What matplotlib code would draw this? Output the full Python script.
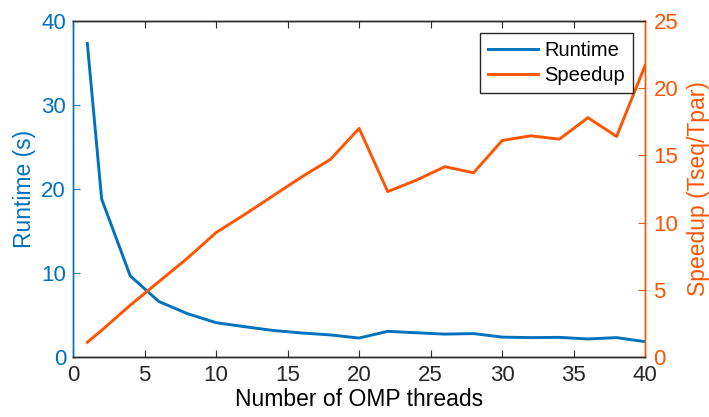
import matplotlib
matplotlib.use("Agg")
import matplotlib.pyplot as plt
from matplotlib import font_manager

names = {f.name for f in font_manager.fontManager.ttflist}
NARROW = 'Liberation Sans Narrow' if 'Liberation Sans Narrow' in names else 'Liberation Sans'
plt.rcParams['font.family'] = [NARROW, 'DejaVu Sans']

# ==============================
# DATA
# ==============================
threads = [1, 2, 4, 6, 8, 10, 12, 14, 16, 18, 20,
           22, 24, 26, 28, 30, 32, 34, 36, 38, 40]
runtime = [37.3, 18.8, 9.65, 6.6, 5.15, 4.08, 3.6, 3.15, 2.85, 2.62, 2.25,
           3.05, 2.88, 2.72, 2.78, 2.36, 2.3, 2.33, 2.14, 2.3, 1.82]
speedup = [1.09, 1.98, 3.85, 5.6, 7.35, 9.25, 10.6, 12.0, 13.4, 14.7, 17.0,
           12.3, 13.15, 14.15, 13.7, 16.1, 16.45, 16.2, 17.8, 16.4, 21.7]

BLUE = '#0072BD'
ORANGE = '#FF5500'

fig = plt.figure(figsize=(7.09, 4.17), dpi=100)
ax = fig.add_axes([0.103, 0.144, 0.807, 0.806])
ax2 = ax.twinx()

l1, = ax.plot(threads, runtime, color=BLUE, lw=2.1, label='Runtime')
l2, = ax2.plot(threads, speedup, color=ORANGE, lw=2.1, label='Speedup')

ax.set_xlim(0, 40)
ax.set_ylim(0, 40)
ax2.set_ylim(0, 25)
ax.set_xticks(range(0, 41, 5))
ax.set_yticks(range(0, 41, 10))
ax2.set_yticks(range(0, 26, 5))

ax.set_xlabel('Number of OMP threads', fontsize=16.5, labelpad=1)
ax.set_ylabel('Runtime (s)', fontsize=16.5, color=BLUE, labelpad=4)
ax2.set_ylabel('Speedup (Tseq/Tpar)', fontsize=16.5, color=ORANGE, labelpad=6)

# MATLAB-ish look: inward ticks, coloured y axes
ax.tick_params(axis='x', direction='in', top=True, length=5, labelsize=16,
               colors='#262626', pad=6)
ax.tick_params(axis='y', direction='in', length=5, labelsize=16, colors=BLUE, pad=5)
ax2.tick_params(axis='y', direction='in', length=5, labelsize=16, colors=ORANGE, pad=6)

for a in (ax, ax2):
    a.spines['top'].set_color('#262626')
    a.spines['bottom'].set_color('#262626')
    a.spines['left'].set_color(BLUE)
    a.spines['right'].set_color(ORANGE)
    for s in a.spines.values():
        s.set_linewidth(1.0)

leg = ax2.legend(handles=[l1, l2], loc='upper right', fontsize=14.5,
                 fancybox=False, framealpha=1, edgecolor='#262626',
                 borderaxespad=0.6, handlelength=2.5, borderpad=0.4,
                 labelspacing=0.3, handletextpad=0.3)
leg.get_frame().set_linewidth(1.0)

fig.savefig('out.png', dpi=100)
